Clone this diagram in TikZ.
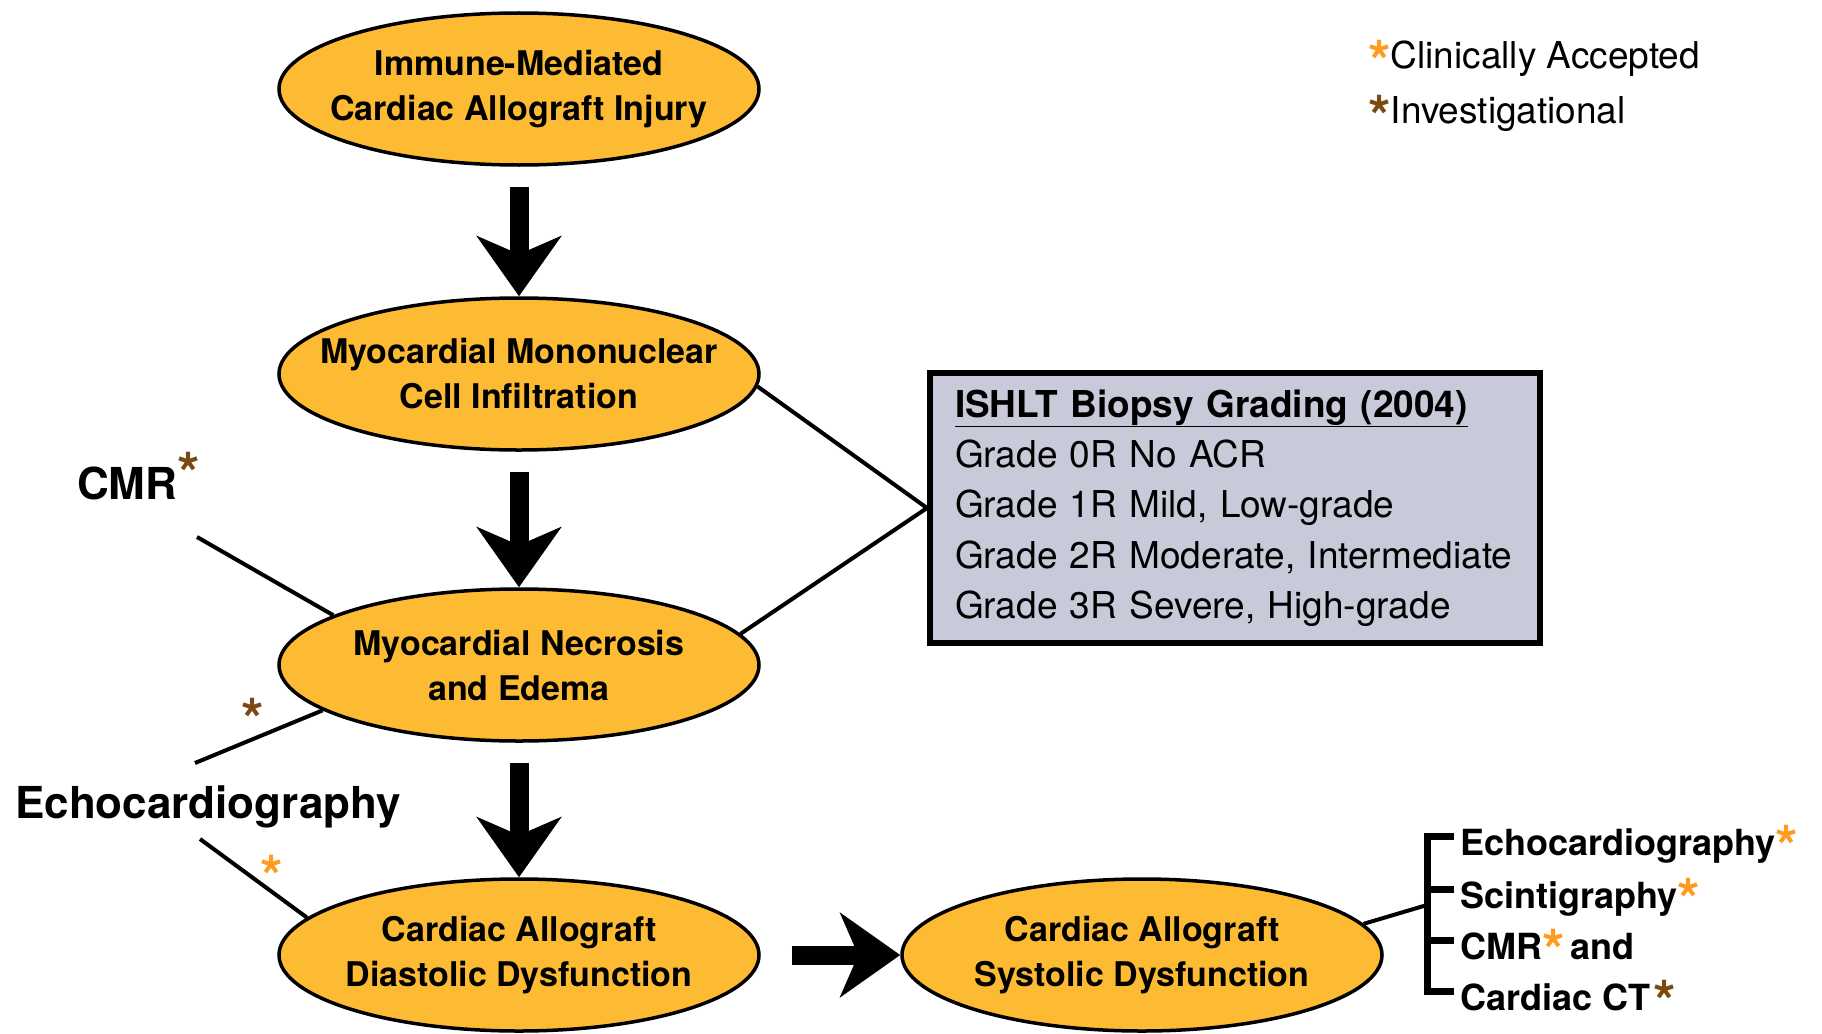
\documentclass[tikz,border=0pt]{standalone}
\usepackage{fontspec}
\setmainfont{TeX Gyre Heros}
\usetikzlibrary{shapes.geometric,arrows.meta}
\definecolor{stagefill}{RGB}{253,186,51}
\definecolor{gradefill}{RGB}{201,202,217}
\definecolor{accepted}{RGB}{255,155,30}
\definecolor{investig}{RGB}{123,74,18}
\newcommand{\accmark}[1][0pt]{\raisebox{#1}{\fontsize{58}{58}\selectfont\bfseries\color{accepted}*}}
\newcommand{\invmark}[1][0pt]{\raisebox{#1}{\fontsize{58}{58}\selectfont\bfseries\color{investig}*}}
\begin{document}
\begin{tikzpicture}[x=1pt,y=-1pt,
    stage/.style={ellipse,draw,line width=3.5pt,fill=stagefill,minimum width=480pt,minimum height=152pt,inner xsep=-40pt,inner ysep=-10pt,align=center,font=\fontsize{34}{45}\selectfont\bfseries},
    bigarrow/.style={line width=19pt,-{Stealth[length=60pt,width=84pt,inset=18pt]}},
    link/.style={line width=4pt},
    brace/.style={line width=7pt},
    modality/.style={anchor=base west,inner sep=0pt,font=\fontsize{44}{50}\selectfont\bfseries},
    item/.style={anchor=base west,inner xsep=6pt,inner ysep=0pt,text height=38pt,text depth=0pt,font=\fontsize{36}{40}\selectfont\bfseries},
    legend/.style={anchor=base west,inner sep=0pt,font=\fontsize{37}{40}\selectfont}]
    \useasboundingbox (0,0) rectangle (1822,1033);
    \node[stage] (injury) at (519,89) {Immune-Mediated\\Cardiac Allograft Injury};
    \node[stage] (infiltration) at (519,374) {Myocardial Mononuclear\\Cell Infiltration};
    \node[stage] (necrosis) at (519,665) {Myocardial Necrosis\\and Edema};
    \node[stage] (diastolic) at (519,955) {Cardiac Allograft\\Diastolic Dysfunction};
    \node[stage] (systolic) at (1142,955) {Cardiac Allograft\\Systolic Dysfunction};
    \draw[bigarrow,shorten <=20pt] (injury) -- (infiltration);
    \draw[bigarrow,shorten <=20pt] (infiltration) -- (necrosis);
    \draw[bigarrow,shorten <=20pt] (necrosis) -- (diastolic);
    \draw[bigarrow,shorten <=31pt] (diastolic) -- (systolic);
    \node[draw,line width=6pt,fill=gradefill,minimum width=610pt,minimum height=270pt,text width=560pt,inner xsep=25pt,align=left,font=\fontsize{37}{50.3}\selectfont] (grading) at (1235,508) {\underline{\bfseries ISHLT Biopsy Grading (2004)}\\Grade 0R No ACR\\Grade 1R Mild, Low-grade\\Grade 2R Moderate, Intermediate\\Grade 3R Severe, High-grade};
    \draw[link] (infiltration.357) -- (grading.west);
    \draw[link] (necrosis.8) -- (grading.west);
    \node[modality] (cmr) at (77,499) {CMR\invmark[5pt]};
    \node[modality] (echo) at (15,818) {Echocardiography};
    \coordinate (cmrend) at (197,537);
    \coordinate (echotop) at (195,763);
    \coordinate (echobot) at (200,839);
    \draw[link] (cmrend) -- (necrosis.165);
    \draw[link] (echotop) -- (necrosis.193);
    \draw[link] (echobot) -- (diastolic.170);
    \node[anchor=base,inner sep=0pt] (necstar) at (253,740) {\invmark};
    \node[anchor=base,inner sep=0pt] (diastar) at (272,897) {\accmark};
    \node[item] (echoR) at (1454,855) {Echocardiography\accmark[-12pt]};
    \node[item] (scintR) at (1454,908) {Scintigraphy\accmark[-12pt]};
    \node[item] (cmrR) at (1454,959) {CMR\accmark[-12pt]\,and};
    \node[item] (ctR) at (1454,1010) {Cardiac CT\kern3pt\invmark[-12pt]};
    \coordinate (braceTap) at (1427,905);
    \draw[brace] (echoR.west) -- ++(-27,0) |- (ctR.west);
    \draw[brace] (scintR.west) -- ++(-27,0);
    \draw[brace] (cmrR.west) -- ++(-27,0);
    \draw[link] (systolic.8) -- (braceTap);
    \node[legend] (acclegend) at (1368,68) {\accmark[-14pt]Clinically Accepted};
    \node[legend] (invlegend) at (1368,123) {\invmark[-14pt]Investigational};
\end{tikzpicture}
\end{document}
